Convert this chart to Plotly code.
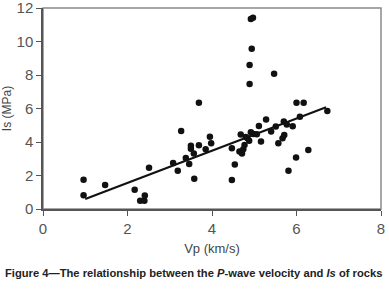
import plotly.graph_objects as go

vp = [0.96, 0.96, 1.47, 2.17, 2.30, 2.40, 2.41, 2.51, 3.08, 3.19, 3.27, 3.38, 3.46,
      3.50, 3.50, 3.57, 3.58, 3.69, 3.69, 3.85, 3.95, 3.98, 4.47, 4.47, 4.54, 4.68,
      4.65, 4.71, 4.74, 4.77, 4.80, 4.84, 4.88, 4.92, 4.98, 5.06, 5.11, 5.16, 5.28,
      5.40, 5.51, 5.57, 5.67, 5.71, 5.70, 5.77, 5.81, 5.91, 5.99, 6.08, 6.28, 6.00,
      6.17, 6.73, 4.92, 4.97, 4.94, 4.89, 5.47, 4.89]
is_mpa = [1.75, 0.82, 1.43, 1.15, 0.50, 0.50, 0.80, 2.46, 2.75, 2.28, 4.66, 3.05, 2.69,
          3.78, 3.60, 3.32, 1.81, 3.80, 6.35, 3.57, 4.32, 3.92, 3.63, 1.73, 2.66, 4.45,
          3.44, 3.32, 3.57, 3.82, 4.30, 4.22, 4.08, 4.58, 4.48, 4.46, 4.96, 4.03, 5.35,
          4.62, 4.92, 3.92, 4.22, 4.42, 5.23, 5.05, 2.28, 4.94, 3.07, 5.51, 3.52, 6.35,
          6.35, 5.85, 11.35, 11.42, 9.57, 8.60, 8.08, 7.46]

fit_slope = 0.96
fit_intercept = -0.36
fit_x = [1.0, 6.7]
fit_y = [fit_slope * x + fit_intercept for x in fit_x]

x_ticks = [0, 2, 4, 6, 8]
y_ticks = [0, 2, 4, 6, 8, 10, 12]

fig = go.Figure()
fig.add_trace(go.Scatter(x=fit_x, y=fit_y, mode="lines",
                         line=dict(color="#111", width=2), showlegend=False))
fig.add_trace(go.Scatter(x=vp, y=is_mpa, mode="markers",
                         marker=dict(color="#111", size=6.5), showlegend=False))

fig.add_shape(type="rect", xref="paper", yref="paper", x0=0, y0=0, x1=1, y1=1,
              line=dict(color="#8a8a8a", width=1.5), layer="below")

tickfont = dict(family="Liberation Sans, Arial, sans-serif", size=15, color="#555")
fig.update_xaxes(range=[0, 8], tickvals=x_ticks, ticks="outside", ticklen=5,
                 tickcolor="#555", showgrid=False, zeroline=False, showline=True,
                 linecolor="#555", linewidth=1.5, tickfont=tickfont, automargin=False,
                 ticklabeloverflow="allow",
                 title=dict(text="Vp (km/s)", standoff=8,
                            font=dict(family="Liberation Sans, Arial, sans-serif", size=13, color="#444")))
fig.update_yaxes(range=[0, 12], tickvals=y_ticks, ticks="outside", ticklen=5,
                 tickcolor="#555", showgrid=False, zeroline=False, showline=True,
                 linecolor="#555", linewidth=1.5, tickfont=tickfont, automargin=False,
                 ticklabeloverflow="allow",
                 title=dict(text="Is (MPa)", standoff=6,
                            font=dict(family="Liberation Sans, Arial, sans-serif", size=12, color="#444")))

fig.add_annotation(text="Figure 4\u2014The relationship between the <i>P</i>-wave velocity and <i>Is</i> of rocks",
                   xref="paper", yref="paper", x=0.444, y=-0.318, xanchor="center", yanchor="middle",
                   showarrow=False,
                   font=dict(family="Liberation Sans, Arial, sans-serif",
                             size=11.2, color="#222", weight="bold"))

fig.update_layout(width=389, height=294, margin=dict(l=43, r=8, t=8, b=85, autoexpand=False),
                  plot_bgcolor="white", paper_bgcolor="white")

fig.write_html("out.html", config={"displayModeBar": False},
               post_script="document.body.style.margin='0';document.body.style.padding='0';")
